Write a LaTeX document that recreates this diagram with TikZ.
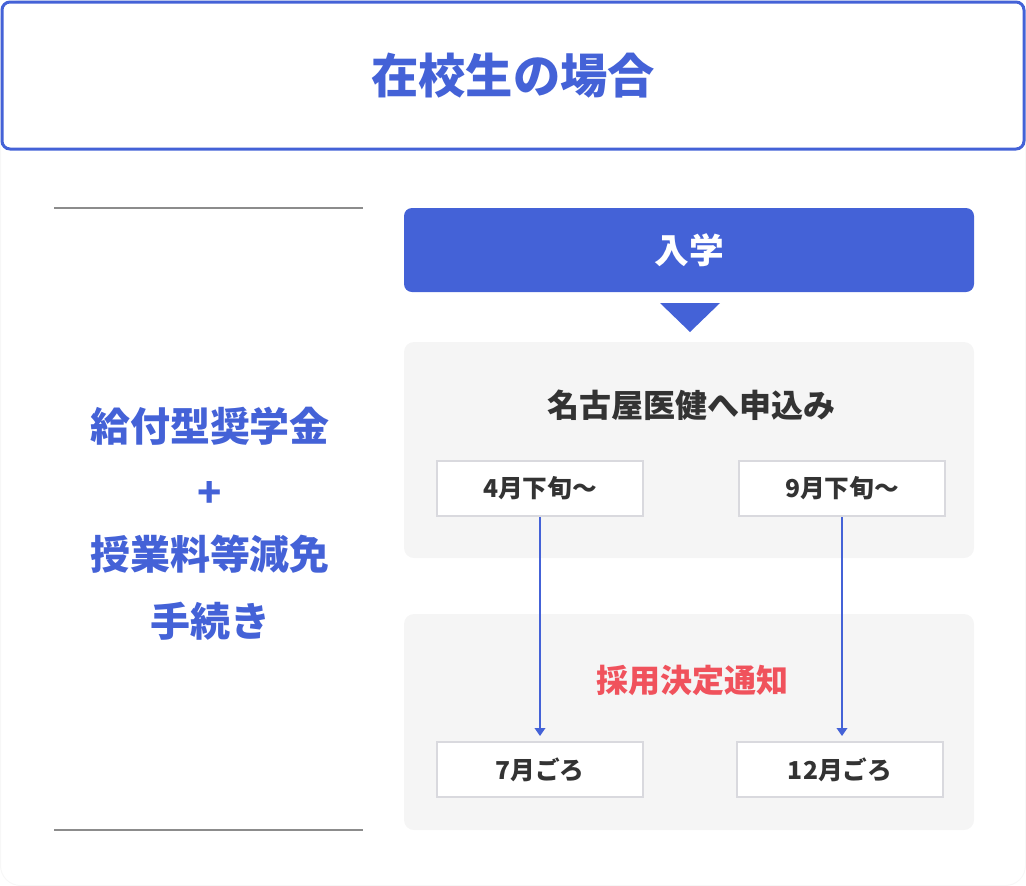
\documentclass[tikz,border=0pt]{standalone}
\usepackage{fontspec}
\setmainfont{Noto Sans CJK JP}
\usetikzlibrary{arrows.meta}

\definecolor{mainblue}{HTML}{4462D7}
\definecolor{notered}{HTML}{F0525C}
\definecolor{panelgray}{HTML}{F5F5F5}
\definecolor{boxline}{HTML}{D9D9DE}
\definecolor{darktext}{HTML}{333333}
\definecolor{ruleline}{HTML}{8C8C8C}

\tikzset{every picture/.style={line width=0.75pt}}
\tikzset{
  titlebox/.style={draw=mainblue, line width=2.25pt, fill=white, rounded corners=6pt, minimum width=766.5pt, minimum height=110.25pt, inner sep=0pt, text=mainblue, font=\bfseries\fontsize{35.5}{40}\selectfont},
  enterbox/.style={fill=mainblue, rounded corners=6pt, minimum width=427.5pt, minimum height=63pt, inner sep=0pt, text=white, font=\bfseries\fontsize{26}{30}\selectfont},
  panel/.style={fill=panelgray, rounded corners=7.5pt, minimum width=427.5pt, minimum height=162pt, inner sep=0pt},
  datebox/.style={draw=boxline, line width=1.5pt, fill=white, minimum width=154.5pt, minimum height=41.25pt, inner sep=0pt, text=darktext, font=\bfseries\fontsize{18.5}{22}\selectfont},
  bluetext/.style={text=mainblue, inner sep=0pt, font=\bfseries\fontsize{30}{34}\selectfont},
  flowarrow/.style={draw=mainblue, line width=1.1pt, -{Triangle[length=6pt, width=8pt]}, shorten >=3.75pt},
  rule/.style={draw=ruleline, line width=1.1pt}
}

\begin{document}
\begin{tikzpicture}[x=0.75pt,y=0.75pt,yscale=-1,xscale=1]
	\useasboundingbox (0,0) rectangle (1026,886);

	%Shape: Card outline
	\draw [draw=black!3, rounded corners=15pt] (0.5,0.5) rectangle (1025.5,885.5);

	% Title
	\node [titlebox] (title) at (513,75.5) {在校生の場合};

	%Straight Lines
	\draw [rule] (54,208) -- (363,208);
	\draw [rule] (54,830) -- (363,830);

	% Text Node
	\node [bluetext] (grant) at (210,426) {給付型奨学金};
	% Text Node
	\node [bluetext] (plus) at (210,494) {+};
	% Text Node
	\node [bluetext] (tuition) at (210,554) {授業料等減免};
	% Text Node
	\node [bluetext] (proc) at (210,621) {手続き};

	% Flow
	\node [enterbox] (enter) at (689,250) {入学};
	%Shape: Triangle
	\fill [mainblue] (660,303) -- (720,303) -- (690,332) -- cycle;

	\node [panel] (apply) at (689,450) {};
	\node [panel] (notice) at (689,722) {};

	% Text Node
	\node [text=darktext, font=\bfseries\fontsize{24}{28}\selectfont] (applytext) at (691,405) {名古屋医健へ申込み};
	% Text Node
	\node [text=notered, font=\bfseries\fontsize{24}{28}\selectfont] (noticetext) at (692,680) {採用決定通知};

	\node [datebox] (apr) at (540,488.5) {4月下旬〜};
	\node [datebox] (sep) at (842,488.5) {9月下旬〜};
	\node [datebox] (jul) at (540,769.5) {7月ごろ};
	\node [datebox] (dec) at (840,769.5) {12月ごろ};

	%Arrows
	\draw [flowarrow] (apr.south) -- (jul.north);
	\draw [flowarrow] (sep.south) -- (sep.south |- dec.north);

\end{tikzpicture}
\end{document}
